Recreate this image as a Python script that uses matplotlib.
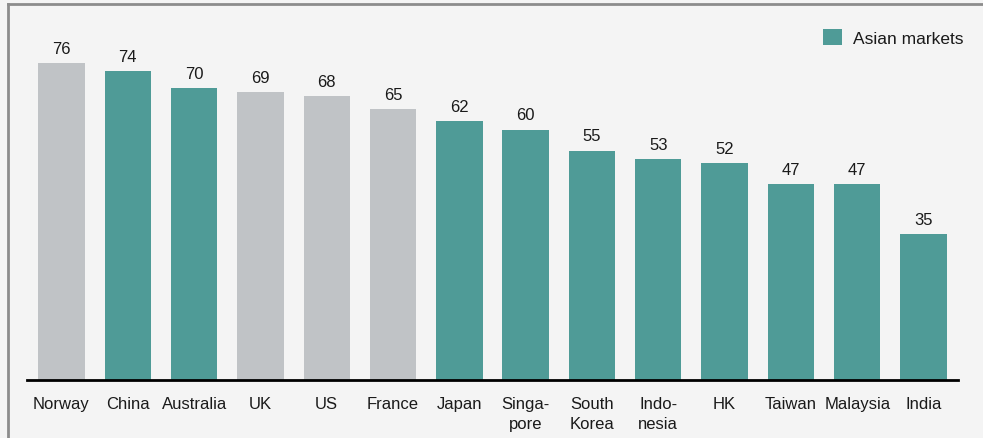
import matplotlib
matplotlib.use("Agg")
import matplotlib.pyplot as plt
from matplotlib.lines import Line2D
from matplotlib.patches import Rectangle

countries = ["Norway", "China", "Australia", "UK", "US", "France", "Japan",
             "Singa-\npore", "South\nKorea", "Indo-\nnesia", "HK", "Taiwan", "Malaysia", "India"]
values = [76, 74, 70, 69, 68, 65, 62, 60, 55, 53, 52, 47, 47, 35]
asian = [False, True, True, False, False, False, True, True, True, True, True, True, True, True]

TEAL = "#4f9b97"
GRAY = "#c0c3c6"
BG = "#f4f4f4"

plt.rcParams['font.family'] = ['Liberation Sans', 'DejaVu Sans']

fig = plt.figure(figsize=(9.83, 4.38), dpi=100, facecolor=BG)
ax = fig.add_axes([27/983, 58/438, 931/983, 360/438])
ax.set_facecolor(BG)

x = list(range(len(countries)))
colors = [TEAL if a else GRAY for a in asian]
ax.bar(x, values, width=0.7, color=colors, zorder=2)
for xi, v in zip(x, values):
    ax.annotate(str(v), (xi, v), xytext=(0, 4.5), textcoords="offset points",
                ha="center", va="bottom", fontsize=12, color="#1a1a1a")

ax.set_xlim(-0.52, 13.52)
ax.set_ylim(0, 86.3)
ax.set_xticks(x)
ax.set_xticklabels(countries, fontsize=12, color="#1a1a1a", linespacing=1.35, va="top")
ax.tick_params(axis="x", length=0, pad=12.5)
ax.set_yticks([])
for s in ["top", "right", "left"]:
    ax.spines[s].set_visible(False)
ax.spines["bottom"].set_linewidth(2)
ax.spines["bottom"].set_color("black")

# legend
fig.patches.append(Rectangle((823/983, 1 - 45/438), 19/983, 16/438, transform=fig.transFigure,
                             facecolor=TEAL, edgecolor="none"))
fig.text(853/983, 1 - 40/438, "Asian markets", fontsize=12.5, va="center", ha="left", color="#1a1a1a")

# frame lines
fig.add_artist(Line2D([7.5/983, 1], [1 - 3.5/438, 1 - 3.5/438], transform=fig.transFigure,
                      color="#8c8c8c", linewidth=2))
fig.add_artist(Line2D([7.5/983, 7.5/983], [0, 1 - 3.5/438], transform=fig.transFigure,
                      color="#8c8c8c", linewidth=2))

fig.savefig("out.png", dpi=100, facecolor=BG)
